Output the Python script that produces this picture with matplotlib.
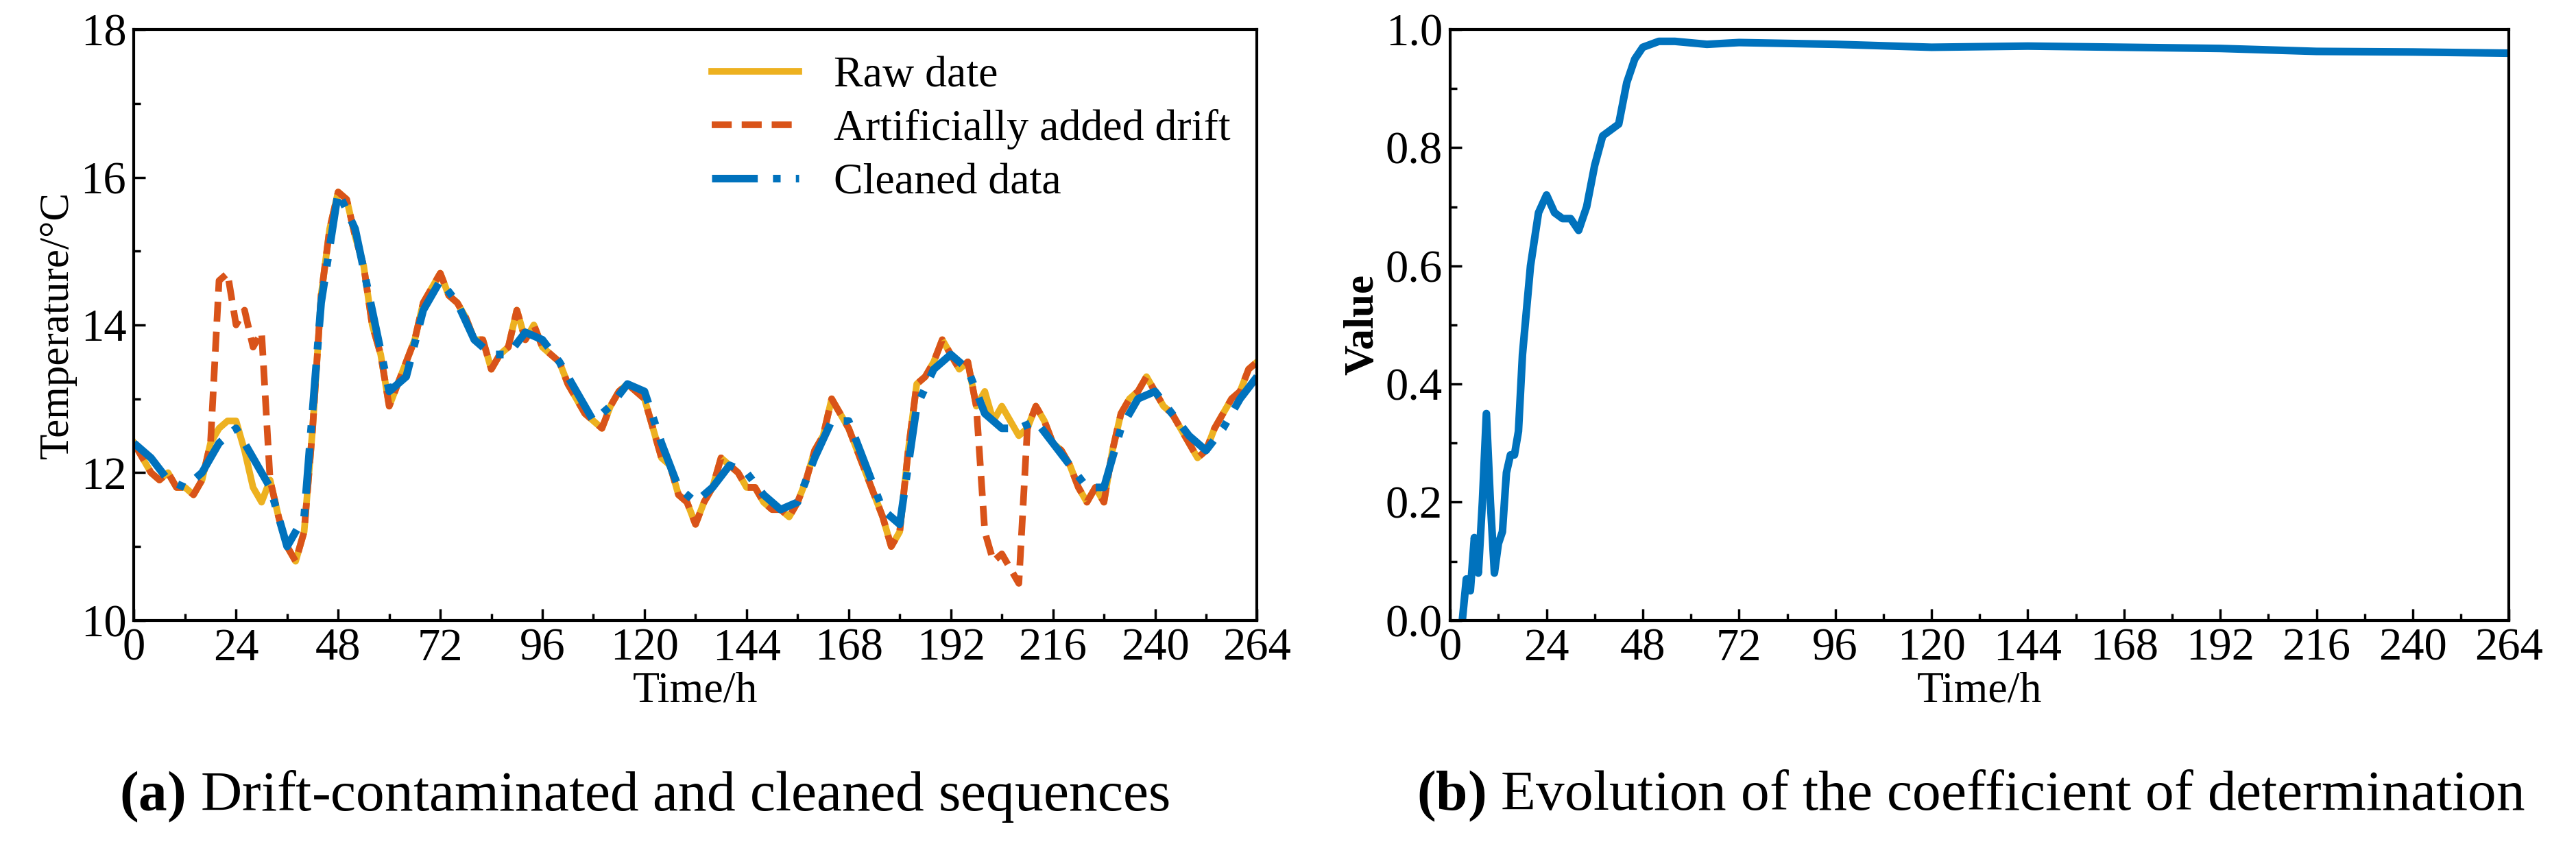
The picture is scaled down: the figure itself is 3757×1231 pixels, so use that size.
import numpy as np
import matplotlib.pyplot as plt
from matplotlib.ticker import MultipleLocator

plt.rcParams['font.family'] = ['Liberation Serif', 'DejaVu Serif']
plt.rcParams['mathtext.fontset'] = 'custom'
plt.rcParams['mathtext.rm'] = 'Liberation Serif'
plt.rcParams['mathtext.bf'] = 'Liberation Serif:bold'

# raw temperature, every 2 h from 0 to 264
t_raw = np.arange(0, 265, 2)
raw = [12.4, 12.2, 12.0, 11.9, 12.0, 11.8, 11.8, 11.7, 11.9, 12.4, 12.6, 12.7, 12.7, 12.3, 11.8, 11.6,
       11.9, 11.4, 11.0, 10.8, 11.2, 12.6, 14.4, 15.3, 15.8, 15.7, 15.2, 14.8, 14.0, 13.6, 12.9, 13.2,
       13.5, 13.8, 14.3, 14.5, 14.7, 14.4, 14.3, 14.1, 13.8, 13.8, 13.4, 13.6, 13.7, 14.2, 13.8, 14.0,
       13.7, 13.6, 13.5, 13.2, 13.0, 12.8, 12.7, 12.6, 12.9, 13.1, 13.2, 13.1, 13.0, 12.6, 12.2, 12.1,
       11.7, 11.6, 11.3, 11.6, 11.8, 12.2, 12.1, 12.0, 11.8, 11.8, 11.6, 11.5, 11.5, 11.4, 11.6, 11.9,
       12.3, 12.5, 13.0, 12.8, 12.6, 12.3, 12.0, 11.7, 11.4, 11.0, 11.2, 12.3, 13.2, 13.3, 13.5, 13.8,
       13.6, 13.4, 13.5, 12.9, 13.1, 12.7, 12.9, 12.7, 12.5, 12.6, 12.9, 12.7, 12.4, 12.3, 12.1, 11.8,
       11.6, 11.8, 11.6, 12.3, 12.8, 13.0, 13.1, 13.3, 13.1, 12.9, 12.8, 12.6, 12.4, 12.2, 12.3, 12.6,
       12.8, 13.0, 13.1, 13.4, 13.5]

# drift windows (hours -> contaminated value); elsewhere the drift series follows raw
drift_hours = [20, 22, 24, 26, 28, 30, 200, 202, 204, 206, 208]
drift_values = [14.6, 14.7, 14.0, 14.2, 13.7, 13.9, 11.2, 10.8, 10.9, 10.7, 10.5]

t_clean = np.arange(0, 265, 4)
cleaned = [12.4, 12.2, 11.9, 11.8, 12.0, 12.4, 12.6, 12.2, 11.8, 11.0, 11.4, 14.3, 15.8, 15.3, 14.2, 13.1,
           13.3, 14.2, 14.6, 14.3, 13.8, 13.6, 13.6, 13.9, 13.8, 13.5, 13.1, 12.7, 12.9, 13.2, 13.1, 12.4,
           11.8, 11.6, 11.8, 12.1, 12.0, 11.7, 11.5, 11.6, 12.2, 12.7, 12.7, 12.1, 11.5, 11.3, 12.9, 13.4,
           13.6, 13.4, 12.8, 12.6, 12.6, 12.7, 12.4, 12.1, 11.8, 11.8, 12.6, 13.0, 13.1, 12.8, 12.5, 12.3,
           12.6, 13.0, 13.3]

t_r2 = [3, 4, 5, 6, 7, 8, 9, 10, 11, 12, 13, 14, 15, 16, 17, 18, 20, 22, 24, 26, 28, 30, 32, 34, 36,
        38, 40, 42, 44, 46, 48, 52, 56, 64, 72, 96, 120, 144, 168, 192, 216, 240, 264]
r2 = [0.0, 0.07, 0.05, 0.14, 0.08, 0.2, 0.35, 0.2, 0.08, 0.13, 0.15, 0.25, 0.28, 0.28, 0.32, 0.45,
      0.6, 0.69, 0.72, 0.69, 0.68, 0.68, 0.66, 0.7, 0.77, 0.82, 0.83, 0.84, 0.91, 0.95, 0.97, 0.98,
      0.98, 0.975, 0.978, 0.975, 0.97, 0.972, 0.97, 0.968, 0.963, 0.962, 0.96]

drift = list(raw)
for h, v in zip(drift_hours, drift_values):
    drift[h // 2] = v

fig = plt.figure(figsize=(37.57, 12.31), dpi=100)
ax1 = fig.add_axes([0.052, 0.265, 0.436, 0.7])
ax2 = fig.add_axes([0.563, 0.265, 0.411, 0.7])

ax1.plot(t_raw, raw, color='#EDB120', lw=7, label='Raw date')
ax1.plot(t_raw, drift, color='#D95319', lw=7, ls=(0, (3, 1.5)), label='Artificially added drift')
ax1.plot(t_clean, cleaned, color='#0072BD', lw=8, ls=(0, (6, 2, 1, 2)), label='Cleaned data')
ax1.set_ylim(10, 18)
ax1.yaxis.set_major_locator(MultipleLocator(2))
ax1.yaxis.set_minor_locator(MultipleLocator(1))
ax1.set_ylabel('Temperature/°C', fontsize=44)
ax1.legend(loc='upper right', fontsize=46, frameon=False, handlelength=2.0, labelspacing=0.3,
           borderaxespad=0.2)

ax2.plot(t_r2, r2, color='#0072BD', lw=8)
ax2.set_ylim(0, 1.0)
ax2.yaxis.set_major_locator(MultipleLocator(0.2))
ax2.yaxis.set_minor_locator(MultipleLocator(0.1))
ax2.yaxis.set_major_formatter(plt.FormatStrFormatter('%.1f'))
ax2.set_ylabel('Value', fontsize=44, fontweight='bold')

for ax in (ax1, ax2):
    ax.set_xlim(0, 264)
    ax.xaxis.set_major_locator(MultipleLocator(24))
    ax.xaxis.set_minor_locator(MultipleLocator(12))
    ax.set_xlabel('Time/h', fontsize=46, labelpad=2)
    ax.tick_params(which='both', direction='in', labelsize=48, width=2.5, pad=8)
    ax.tick_params(which='major', length=12)
    ax.tick_params(which='minor', length=7)
    for s in ax.spines.values():
        s.set_linewidth(3)

fig.text(0.25, 0.04, r'$\mathbf{(a)}$ Drift-contaminated and cleaned sequences', ha='center', fontsize=60)
fig.text(0.765, 0.04, r'$\mathbf{(b)}$ Evolution of the coefficient of determination', ha='center', fontsize=60)

fig.savefig('out.png')
